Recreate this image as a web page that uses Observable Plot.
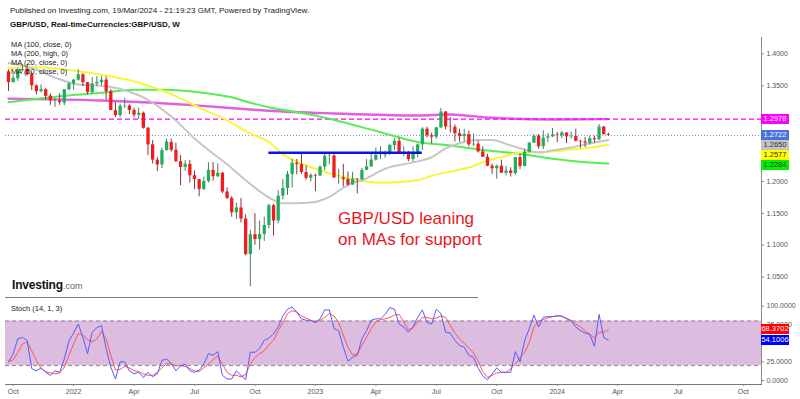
<!DOCTYPE html>
<html>
<head>
<meta charset="utf-8">
<script src="https://cdn.jsdelivr.net/npm/d3@7"></script>
<script src="https://cdn.jsdelivr.net/npm/@observablehq/plot@0.6"></script>
<style>
  html,body{margin:0;padding:0;background:#fff;}
  #chart{position:relative;width:800px;height:399px;overflow:hidden;background:#fff;font-family:"Liberation Sans",Arial,sans-serif;}
  .t{position:absolute;white-space:nowrap;line-height:1;color:#222;}
  .plot{position:absolute;left:0;}
  .box{position:absolute;left:761px;width:28px;height:10px;font-size:7.5px;line-height:10px;text-align:center;}
</style>
</head>
<body>
<div id="chart"></div>
<script>
// ---------- DATA (weekly GBP/USD candles, first bar = week of 27 Sep 2021) ----------
const firstWeek = "2021-09-27";
const open = [1.3720,1.3550,1.3610,1.3740,1.3760,1.3680,1.3500,1.3410,1.3440,1.3340,1.3260,1.3260,1.3230,1.3440,1.3530,1.3590,1.3675,1.3550,1.3395,1.3530,
1.3550,1.3590,1.3410,1.3110,1.3035,1.3180,1.3185,1.3115,1.3040,1.3070,1.2835,1.2575,1.2335,1.2260,1.2485,1.2610,1.2490,1.2310,1.2220,1.2270,
1.2090,1.2030,1.1875,1.2000,1.2175,1.2075,1.2130,1.1835,1.1735,1.1510,1.1585,1.1410,1.0855,1.1165,1.1090,1.1170,1.1310,1.1620,1.1380,1.1770,
1.1890,1.2110,1.2285,1.2265,1.2140,1.2050,1.2095,1.2085,1.2225,1.2395,1.2400,1.2055,1.2055,1.2030,1.1945,1.2040,1.2030,1.2175,1.2230,1.2335,
1.2410,1.2415,1.2440,1.2565,1.2630,1.2445,1.2445,1.2345,1.2450,1.2575,1.2820,1.2720,1.2695,1.2840,1.3090,1.2855,1.2850,1.2750,1.2705,1.2735,
1.2575,1.2585,1.2465,1.2380,1.2240,1.2200,1.2240,1.2130,1.2165,1.2125,1.2375,1.2235,1.2460,1.2600,1.2710,1.2545,1.2680,1.2700,1.2730,1.2720,
1.2760,1.2700,1.2705,1.2630,1.2620,1.2600,1.2670,1.2655,1.2855,1.2735];
const high = [1.3750,1.3675,1.3775,1.3835,1.3830,1.3700,1.3515,1.3515,1.3455,1.3375,1.3300,1.3375,1.3440,1.3550,1.3600,1.3750,1.3690,1.3550,1.3630,1.3645,
1.3645,1.3640,1.3440,1.3240,1.3215,1.3300,1.3200,1.3150,1.3150,1.3090,1.2850,1.2640,1.2380,1.2525,1.2665,1.2665,1.2600,1.2405,1.2325,1.2330,
1.2165,1.2030,1.2065,1.2295,1.2295,1.2275,1.2140,1.1900,1.1760,1.1660,1.1735,1.1475,1.1235,1.1495,1.1380,1.1440,1.1645,1.1640,1.1855,1.2030,
1.2155,1.2345,1.2345,1.2445,1.2245,1.2120,1.2115,1.2245,1.2435,1.2450,1.2420,1.2190,1.2270,1.2150,1.2145,1.2045,1.2205,1.2345,1.2425,1.2525,
1.2545,1.2475,1.2585,1.2670,1.2680,1.2545,1.2470,1.2545,1.2590,1.2845,1.2850,1.2760,1.2850,1.3145,1.3095,1.3000,1.2890,1.2820,1.2820,1.2790,
1.2745,1.2635,1.2545,1.2425,1.2270,1.2260,1.2335,1.2235,1.2215,1.2375,1.2430,1.2505,1.2615,1.2735,1.2735,1.2795,1.2750,1.2830,1.2770,1.2785,
1.2765,1.2775,1.2820,1.2645,1.2690,1.2710,1.2710,1.2895,1.2860,1.2760];
const low = [1.3412,1.3545,1.3570,1.3720,1.3655,1.3425,1.3355,1.3390,1.3280,1.3195,1.3160,1.3195,1.3190,1.3420,1.3430,1.3575,1.3485,1.3360,1.3370,1.3490,
1.3500,1.3275,1.3110,1.3000,1.3000,1.3145,1.3050,1.3000,1.2975,1.2820,1.2410,1.2275,1.2155,1.2200,1.2475,1.2460,1.2300,1.1935,1.2160,1.1975,
1.1875,1.1760,1.1860,1.1975,1.2005,1.2060,1.1810,1.1715,1.1440,1.1405,1.1350,1.0835,1.0350,1.1000,1.0925,1.1060,1.1255,1.1145,1.1335,1.1710,
1.1780,1.1900,1.2105,1.2110,1.2020,1.1990,1.1840,1.2080,1.2170,1.2260,1.2050,1.1960,1.1915,1.1925,1.1940,1.1805,1.2010,1.2170,1.2220,1.2320,
1.2345,1.2365,1.2410,1.2485,1.2440,1.2390,1.2310,1.2305,1.2370,1.2485,1.2685,1.2590,1.2660,1.2830,1.2810,1.2760,1.2620,1.2615,1.2620,1.2545,
1.2550,1.2445,1.2380,1.2230,1.2110,1.2035,1.2125,1.2090,1.2070,1.2095,1.2185,1.2230,1.2445,1.2595,1.2505,1.2500,1.2610,1.2690,1.2610,1.2670,
1.2595,1.2665,1.2620,1.2520,1.2535,1.2575,1.2600,1.2640,1.2730,1.2705];
const close = [1.3550,1.3620,1.3745,1.3755,1.3675,1.3500,1.3410,1.3440,1.3335,1.3265,1.3265,1.3235,1.3440,1.3530,1.3590,1.3675,1.3550,1.3395,1.3530,1.3555,
1.3590,1.3410,1.3115,1.3035,1.3180,1.3185,1.3115,1.3040,1.3070,1.2835,1.2575,1.2335,1.2260,1.2485,1.2620,1.2490,1.2310,1.2220,1.2270,1.2090,
1.2030,1.1875,1.2000,1.2175,1.2075,1.2130,1.1835,1.1735,1.1510,1.1585,1.1410,1.0855,1.1165,1.1090,1.1170,1.1310,1.1620,1.1380,1.1770,1.1890,
1.2110,1.2285,1.2265,1.2140,1.2050,1.2095,1.2085,1.2225,1.2395,1.2400,1.2055,1.2055,1.2030,1.1945,1.2040,1.2030,1.2175,1.2230,1.2335,1.2410,
1.2415,1.2440,1.2565,1.2630,1.2445,1.2445,1.2345,1.2450,1.2575,1.2820,1.2720,1.2695,1.2840,1.3090,1.2855,1.2850,1.2750,1.2705,1.2735,1.2575,
1.2585,1.2465,1.2380,1.2240,1.2200,1.2240,1.2130,1.2165,1.2125,1.2375,1.2235,1.2460,1.2600,1.2710,1.2545,1.2680,1.2700,1.2730,1.2720,1.2760,
1.2700,1.2705,1.2630,1.2620,1.2600,1.2670,1.2655,1.2855,1.2735,1.2722];

// Moving averages at sample bars (bar index -> value)
const ma20Idx = [0,5,10,15,20,25,30,35,41,47,52,56,59,62,65,69,72,74,76,81,87,91,94,97,101,104,107,110,114,117,121,126,129];
const ma20Val = [1.386,1.378,1.363,1.352,1.350,1.343,1.328,1.302,1.261,1.227,1.196,1.175,1.166,1.166,1.167,1.176,1.190,1.198,1.202,1.220,1.230,1.238,1.252,1.260,1.265,1.265,1.259,1.252,1.2455,1.2486,1.2533,1.261,1.2650];
const ma50Idx = [0,5,15,22,28,35,41,47,52,56,59,66,73,80,88,91,96,99,103,106,110,117,121,125,129];
const ma50Val = [1.378,1.379,1.373,1.365,1.355,1.337,1.316,1.296,1.275,1.262,1.243,1.220,1.205,1.198,1.202,1.209,1.217,1.222,1.233,1.238,1.2455,1.247,1.250,1.253,1.2577];
const ma100Idx = [0,13,20,27,34,41,48,52,56,66,80,88,95,103,110,117,124,129];
const ma100Val = [1.3244,1.335,1.339,1.3438,1.344,1.340,1.332,1.3235,1.3166,1.3035,1.2773,1.262,1.2565,1.2486,1.2434,1.2356,1.2303,1.2284];
const ma200Idx = [0,20,41,52,56,70,88,95,103,117,129];
const ma200Val = [1.330,1.327,1.319,1.313,1.311,1.3067,1.3035,1.305,1.3004,1.2973,1.2978];

// Stochastic (14, 1, 3): %K (blue) and %D (red), one value per bar
const stochK = [25,36,56,58,54,16,13,17,11,7,13,11,29,53,64,76,58,36,65,71,
74,43,18,2,25,25,13,9,11,4,11,5,9,27,29,23,13,20,22,13,
11,14,22,36,34,39,7,2,2,13,7,1,38,38,43,54,57,63,72,87,
96,99,92,83,81,81,78,83,95,95,70,67,45,26,31,34,56,67,81,83,
83,89,98,96,76,72,65,72,85,95,78,76,96,90,65,64,54,47,45,34,
31,17,6,1,9,17,11,11,11,39,25,54,70,88,72,85,86,86,87,87,
83,80,72,67,64,62,46,89,58,54.1006];
const stochD = [25,28,38,49,52,40,27,16,12,10,9,10,18,34,49,63,61,55,52,56,
66,56,34,14,15,19,17,13,12,9,7,7,11,17,23,22,20,20,19,16,
13,12,17,22,28,33,22,11,7,7,5,8,22,31,36,40,48,54,67,78,
90,94,92,87,84,81,78,81,85,90,87,78,61,45,34,36,47,58,70,79,
82,83,85,88,89,79,68,71,79,85,85,83,84,87,85,74,64,56,50,44,
37,26,12,4,7,10,11,11,16,22,31,38,51,72,80,82,84,86,87,86,
84,81,76,72,67,62,57,65,65,68.3702];

// axis ticks that are visible (1.3000, 1.2500 and 50.0000 sit under the value boxes)
const priceTicks = [1.05,1.10,1.15,1.20,1.35,1.40];
const stochTicks = [0,25,75,100];
const stochBand = [20, 80];
const xTickDates = ["2021-10-04","2022-01-03","2022-04-04","2022-07-04","2022-10-03","2023-01-02","2023-04-03","2023-07-03","2023-10-02","2024-01-01","2024-04-01","2024-07-01","2024-10-07"];
const xTickLabels = ["Oct","2022","Apr","Jul","Oct","2023","Apr","Jul","Oct","2024","Apr","Jul","Oct"];
const lastPrice = 1.2722;
const supportLevel = [{start:"2022-10-24", end:"2023-06-12", price:1.2450}];
const priceLabels = [
  {v:1.2978, bg:"#ff00ff", fg:"#fff"},
  {v:1.2722, bg:"#4a72db", fg:"#fff"},
  {v:1.2650, bg:"#c3c3c3", fg:"#333"},
  {v:1.2577, bg:"#ffff00", fg:"#333"},
  {v:1.2284, bg:"#00f000", fg:"#333"}];
const stochLabels = [
  {v:68.3702, bg:"#ff0000", fg:"#fff"},
  {v:54.1006, bg:"#0000ff", fg:"#fff"}];
const legendLines = ["MA (100, close, 0)","MA (200, high, 0)","MA (20, close, 0)","MA (50, close, 0)"];

// ---------- BUILD ----------
const t0 = new Date(firstWeek + "T00:00:00Z");
const dates = close.map((_, i) => d3.utcDay.offset(t0, 7 * i));
const bars = close.map((c, i) => ({date: dates[i], o: open[i], h: high[i], l: low[i], c, up: c >= open[i]}));
const maRows = (idx, vals) => idx.map((k, j) => ({date: dates[k], v: vals[j]}));
const stochRows = close.map((_, i) => ({date: dates[i], k: stochK[i], d: stochD[i]}));
const supportRows = supportLevel.map(s => ({x1: new Date(s.start), x2: new Date(s.end), y: s.price}));
const tickDateObjs = xTickDates.map(s => new Date(s + "T00:00:00Z"));
const tickLabelMap = new Map(tickDateObjs.map((d, i) => [+d, xTickLabels[i]]));

const xScale = {type: "utc", domain: [t0, new Date("2024-10-07T00:00:00Z")], range: [8, 742.7]};
const UP = "#22ad5f", DOWN = "#f21c1c", UPW = "#4e7a5f", DOWNW = "#7a3a3a";
const baseStyle = {fontFamily: "Liberation Sans, Arial, sans-serif", fontSize: "7px", color: "#555", background: "transparent", overflow: "visible"};

const p1 = Plot.plot({
  width: 800, height: 297, marginTop: 37, marginBottom: 0, marginLeft: 5, marginRight: 39,
  style: baseStyle,
  x: {...xScale, axis: null},
  y: {domain: [1.0, 1.45], range: [308.5, 21.6]},
  marks: [
    Plot.frame({anchor: "right", stroke: "#8a8a8a"}),
    Plot.line(maRows(ma200Idx, ma200Val), {x: "date", y: "v", stroke: "#e25fe2", strokeWidth: 2.4, curve: "monotone-x"}),
    Plot.ruleY([ma200Val[ma200Val.length - 1]], {stroke: "#ff00ff", strokeWidth: 1.4, strokeDasharray: "5,3"}),
    Plot.ruleY([lastPrice], {stroke: "#6f8ee6", strokeWidth: 1, strokeDasharray: "1,2"}),
    Plot.line(maRows(ma100Idx, ma100Val), {x: "date", y: "v", stroke: "#55ee55", strokeWidth: 2, curve: "monotone-x"}),
    Plot.line(maRows(ma50Idx, ma50Val), {x: "date", y: "v", stroke: "#f6f63c", strokeWidth: 2, curve: "monotone-x"}),
    Plot.line(maRows(ma20Idx, ma20Val), {x: "date", y: "v", stroke: "#c6c6c6", strokeWidth: 2, curve: "monotone-x"}),
    Plot.ruleX(bars, {x: "date", y1: "l", y2: "h", stroke: d => d.up ? UPW : DOWNW, strokeWidth: 1}),
    Plot.ruleX(bars, {x: "date", y1: "o", y2: "c", stroke: d => d.up ? UP : DOWN, strokeWidth: 3.3}),
    Plot.ruleY(supportRows, {x1: "x1", x2: "x2", y: "y", stroke: "#0a12e6", strokeWidth: 2.4}),
    Plot.axisY(priceTicks, {anchor: "right", tickFormat: d3.format(".4f"), tickSize: 2, tickPadding: 3, label: null, stroke: "#888", fill: "#555"})
  ]
});

const p2 = Plot.plot({
  width: 800, height: 102, marginTop: 0, marginBottom: 15, marginLeft: 5, marginRight: 39,
  style: baseStyle,
  x: {...xScale},
  y: {domain: [0, 100], range: [83, 8.7]},
  marks: [
    Plot.rect([stochBand], {y1: d => d[0], y2: d => d[1], fill: "#dcbcdf"}),
    Plot.ruleY(stochBand, {stroke: "#8c8290", strokeWidth: 1, strokeDasharray: "4,3"}),
    Plot.line(stochRows, {x: "date", y: "d", stroke: "#ff5454", strokeWidth: 1}),
    Plot.line(stochRows, {x: "date", y: "k", stroke: "#5a5aff", strokeWidth: 1}),
    Plot.frame({anchor: "right", stroke: "#8a8a8a"}),
    Plot.frame({anchor: "bottom", stroke: "#777"}),
    Plot.axisY(stochTicks, {anchor: "right", tickFormat: d3.format(".4f"), tickSize: 2, tickPadding: 3, label: null, stroke: "#888", fill: "#555"}),
    Plot.axisX(tickDateObjs, {anchor: "bottom", tickFormat: d => tickLabelMap.get(+d), tickSize: 2, tickPadding: 3, label: null, stroke: "#888", fill: "#555"})
  ]
});

const root = document.getElementById("chart");
p1.classList.add("plot"); p1.style.top = "0px";
p2.classList.add("plot"); p2.style.top = "297px";
root.appendChild(p1); root.appendChild(p2);

function addText(html, left, top, css) {
  const d = document.createElement("div");
  d.className = "t"; d.innerHTML = html;
  d.style.left = left + "px"; d.style.top = top + "px";
  Object.assign(d.style, css || {});
  root.appendChild(d);
  return d;
}
// separator between panels
const sep = document.createElement("div");
Object.assign(sep.style, {position: "absolute", left: "5px", top: "297px", width: "473px", height: "1px", background: "#7a7a7a"});
root.appendChild(sep);

addText("Published on Investing.com, 19/Mar/2024 - 21:19:23 GMT, Powered by TradingView.", 10, 6.5, {fontSize: "8px"});
addText("GBP/USD, Real-timeCurrencies:GBP/USD, W", 10, 21, {fontSize: "8px", fontWeight: "bold", color: "#111"});
legendLines.forEach((s, i) => addText(s, 11, 40.5 + i * 9, {fontSize: "7.5px", color: "#222"}));
addText("Stoch (14, 1, 3)", 11, 304.5, {fontSize: "7.5px", color: "#222"});
addText("GBP/USD leaning<br>on MAs for support", 338, 208, {fontSize: "17px", lineHeight: "21px", color: "#e8161e"});
addText('Investing<span style="font-size:9px;font-weight:normal;color:#666;letter-spacing:0">.com</span>', 12, 279, {fontSize: "12px", fontWeight: "bold", color: "#111", letterSpacing: "-0.2px"});

// value boxes on the right axis
function boxes(list, scale, offset, gap) {
  const items = list.map(o => ({...o, y: scale.apply(o.v) + offset})).sort((a, b) => a.y - b.y);
  for (let i = 1; i < items.length; i++) if (items[i].y < items[i - 1].y + gap) items[i].y = items[i - 1].y + gap;
  items.forEach(o => {
    const d = document.createElement("div");
    d.className = "box";
    d.textContent = o.v.toFixed(4);
    d.style.top = (o.y - 5) + "px";
    d.style.background = o.bg; d.style.color = o.fg;
    root.appendChild(d);
  });
}
boxes(priceLabels, p1.scale("y"), 0, 10);
boxes(stochLabels, p2.scale("y"), 297, 10.5);
</script>
</body>
</html>
